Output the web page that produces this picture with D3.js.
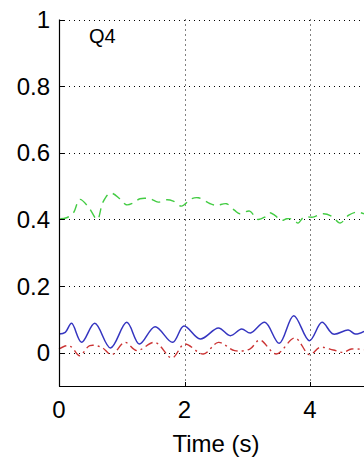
<!DOCTYPE html>
<html><head><meta charset="utf-8">
<script src="https://cdn.jsdelivr.net/npm/d3@7"></script>
<style>
html,body{margin:0;padding:0;background:#fff;overflow:hidden}
svg{display:block}
text{font-family:Arial,"Liberation Sans",sans-serif;fill:#000}
</style></head><body>
<svg id="c" width="364" height="457"></svg>
<script>
const xTicks = [0, 2, 4];
const yTicks = [0, 0.2, 0.4, 0.6, 0.8, 1];
const yTickLabels = ["0", "0.2", "0.4", "0.6", "0.8", "1"];
const title = "Q4";
const xLabel = "Time (s)";

// green dashed series
const greenT = [0.02,0.12,0.23,0.33,0.47,0.61,0.70,0.82,0.97,1.07,1.18,1.29,1.45,1.58,1.72,1.82,1.95,2.11,2.22,2.41,2.51,2.67,2.80,2.88,3.04,3.16,3.28,3.36,3.44,3.55,3.63,3.73,3.81,3.89,3.97,4.05,4.21,4.35,4.48,4.61,4.74,4.86];
const greenV = [0.402,0.405,0.42,0.46,0.437,0.40,0.452,0.479,0.462,0.444,0.449,0.462,0.462,0.452,0.459,0.455,0.44,0.462,0.465,0.447,0.442,0.447,0.427,0.417,0.425,0.40,0.407,0.42,0.412,0.397,0.402,0.40,0.389,0.405,0.407,0.407,0.417,0.409,0.389,0.412,0.422,0.417];

// blue solid series
const blueT = [0.0,0.10,0.20,0.36,0.57,0.82,1.08,1.28,1.53,1.81,1.99,2.25,2.54,2.73,2.91,3.05,3.28,3.51,3.74,3.99,4.19,4.37,4.61,4.72,4.86];
const blueV = [0.056,0.061,0.088,0.031,0.088,0.014,0.091,0.026,0.078,0.031,0.080,0.041,0.074,0.051,0.071,0.059,0.091,0.028,0.111,0.036,0.091,0.056,0.068,0.056,0.064];

// red dash-dot series
const redT = [0.0,0.12,0.20,0.33,0.49,0.68,0.84,1.05,1.24,1.53,1.80,2.00,2.30,2.54,2.80,3.04,3.20,3.46,3.76,3.99,4.16,4.37,4.53,4.66,4.86];
const redV = [0.011,0.021,0.017,-0.009,0.021,0.016,-0.006,0.031,0.006,0.031,-0.016,0.026,-0.004,0.031,0.006,0.011,0.038,-0.004,0.044,-0.006,0.016,0.008,0.001,0.011,0.009];

const svg = d3.select("#c");
const x = d3.scaleLinear().domain([0, 4.86]).range([59, 364]);
const y = d3.scaleLinear().domain([-0.1, 1]).range([386, 19.5]);

// grid
const g = svg.append("g");
g.selectAll("line.gy").data(yTicks).enter().append("line")
  .attr("x1", x(0)).attr("x2", 364)
  .attr("y1", d => Math.round(y(d)) + 0.5).attr("y2", d => Math.round(y(d)) + 0.5)
  .attr("stroke", "#000").attr("stroke-width", 1).attr("stroke-dasharray", "1,4");
g.selectAll("line.gx").data(xTicks.filter(d => d > 0)).enter().append("line")
  .attr("x1", d => Math.round(x(d)) + 0.5).attr("x2", d => Math.round(x(d)) + 0.5)
  .attr("y1", y(1)).attr("y2", y(-0.1))
  .attr("stroke", "#000").attr("stroke-width", 1).attr("stroke-dasharray", "1,4");

const line = d3.line().curve(d3.curveCatmullRom.alpha(0.5));
function draw(T, V, color, dash, w) {
  svg.append("path")
    .attr("d", line(T.map((t, i) => [x(t), y(V[i])])))
    .attr("fill", "none").attr("stroke", color).attr("stroke-width", w)
    .attr("stroke-dasharray", dash);
}
draw(greenT, greenV, "#44cc44", "9,6", 1.4);
draw(blueT, blueV, "#3535c0", null, 1.5);
draw(redT, redV, "#cc3535", "8,4,2,4", 1.4);

// axes
const ax = svg.append("g");
ax.append("line").attr("x1", 59.5).attr("x2", 59.5).attr("y1", y(1)).attr("y2", 386.5)
  .attr("stroke", "#000").attr("stroke-width", 1.2);
ax.append("line").attr("x1", 59).attr("x2", 364).attr("y1", 386.5).attr("y2", 386.5)
  .attr("stroke", "#000").attr("stroke-width", 1.2);
ax.selectAll("line.ty").data(yTicks).enter().append("line")
  .attr("x1", 59.5).attr("x2", 64)
  .attr("y1", d => Math.round(y(d)) + 0.5).attr("y2", d => Math.round(y(d)) + 0.5)
  .attr("stroke", "#000");
ax.selectAll("line.tx").data(xTicks).enter().append("line")
  .attr("x1", d => Math.round(x(d)) + 0.5).attr("x2", d => Math.round(x(d)) + 0.5)
  .attr("y1", 386).attr("y2", 382)
  .attr("stroke", "#000");

ax.selectAll("text.yl").data(yTicks).enter().append("text")
  .attr("x", 50).attr("y", d => y(d) + 8.5)
  .attr("text-anchor", "end").attr("font-size", 24)
  .text((d, i) => yTickLabels[i]);
ax.selectAll("text.xl").data(xTicks).enter().append("text")
  .attr("x", d => x(d)).attr("y", 418)
  .attr("text-anchor", "middle").attr("font-size", 24)
  .text(d => d);
svg.append("text").attr("x", 216).attr("y", 452)
  .attr("text-anchor", "middle").attr("font-size", 24).text(xLabel);
svg.append("text").attr("x", 89).attr("y", 43)
  .attr("font-size", 20).text(title);
</script>
</body></html>
